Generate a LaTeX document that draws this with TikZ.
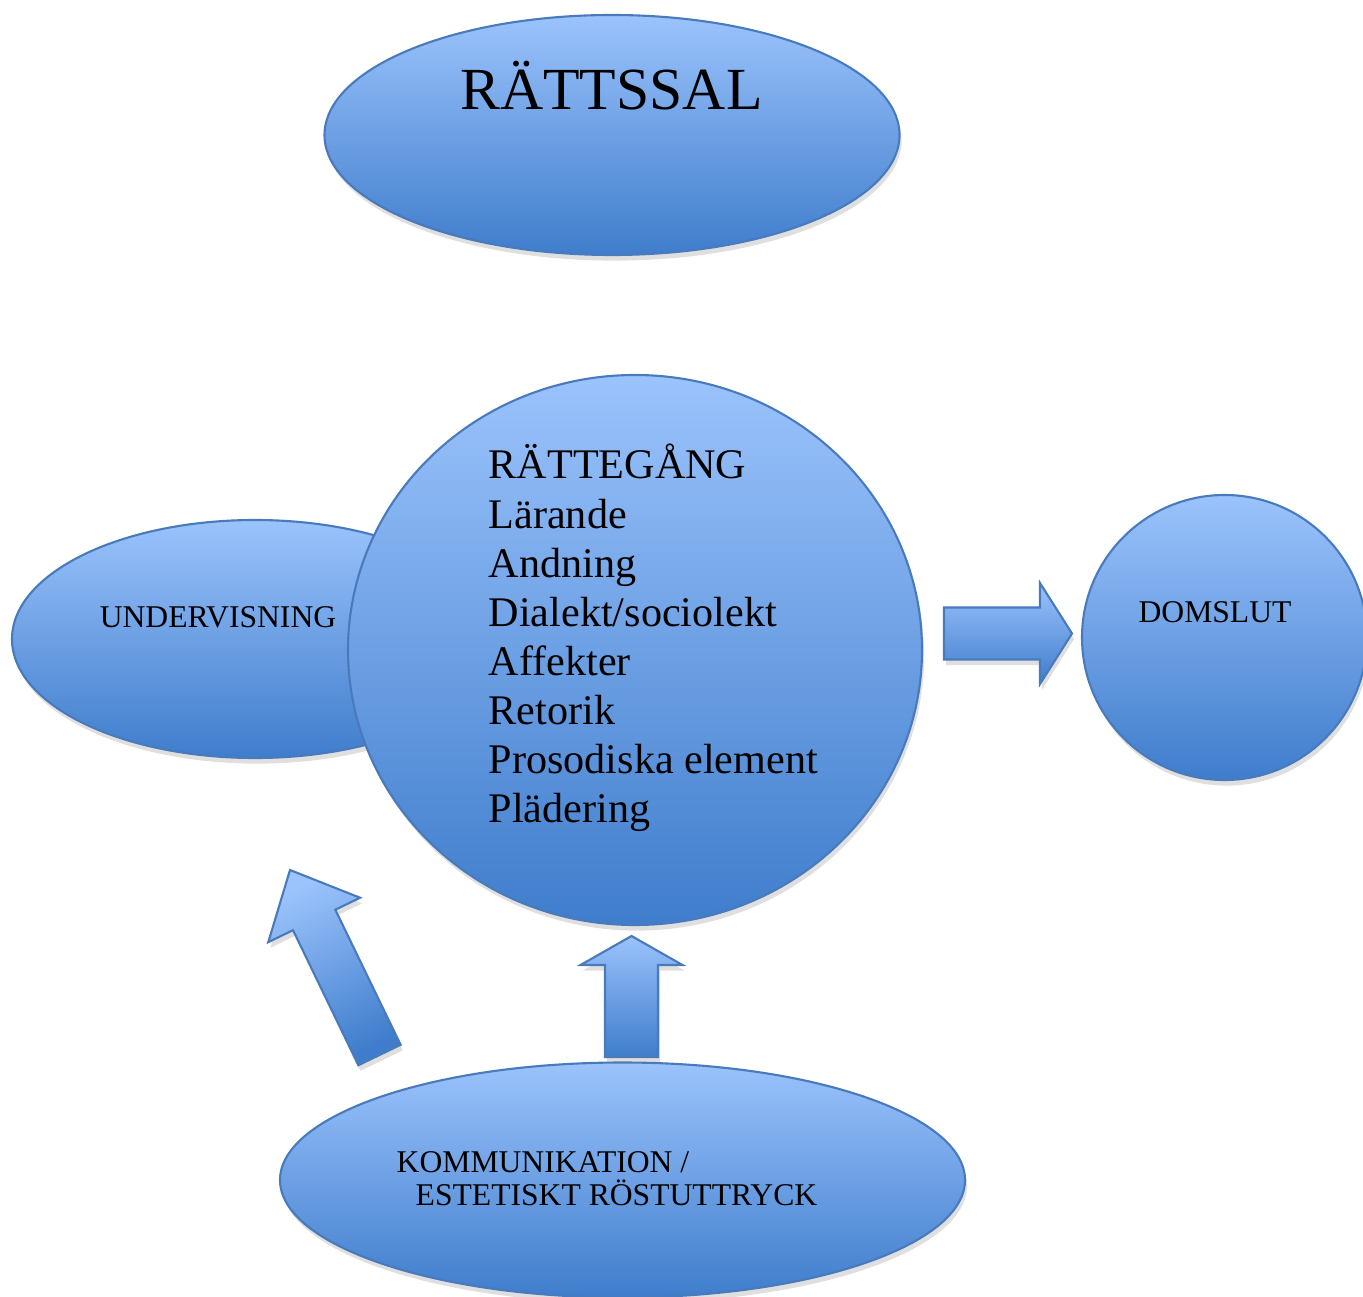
\documentclass[tikz,border=0pt]{standalone}
\usepackage{fontspec}
\setmainfont{Liberation Serif}
\usetikzlibrary{shapes.geometric,shadows,calc}
\definecolor{ljusbla}{RGB}{155,195,252}
\definecolor{morkbla}{RGB}{63,125,204}
\definecolor{kantbla}{RGB}{72,122,188}
\tikzset{
  skugga/.style={drop shadow={opacity=0.25, shadow xshift=0.6pt, shadow yshift=-1.6pt}},
  bubbla/.style={ellipse, draw=kantbla, line width=0.6pt, top color=ljusbla, bottom color=morkbla, inner sep=0pt, skugga},
  pilstil/.style={draw=kantbla, line width=0.6pt, top color=ljusbla, bottom color=morkbla, skugga},
  etikett/.style={inner sep=0pt, font=\fontsize{9}{10}\selectfont}
}
% block arrow: tail, tip, half body width, half head width, head length, shading angle
\newcommand{\blockpil}[6]{%
  \coordinate (pilbas) at ($(#2)!#5!(#1)$);
  \path[pilstil, shading angle=#6]
    ($(#1)!#3!90:(#2)$) -- ($(pilbas)!#3!90:(#2)$) -- ($(pilbas)!#4!90:(#2)$)
    -- (#2) -- ($(pilbas)!#4!-90:(#2)$) -- ($(pilbas)!#3!-90:(#2)$)
    -- ($(#1)!#3!-90:(#2)$) -- cycle;}
\begin{document}
\begin{tikzpicture}
\clip (0,0) rectangle (13.63,-12.97);
%\draw[help lines] (0,0) grid (14,-13);
\node[bubbla, minimum width=5.75cm, minimum height=2.40cm] (rattssal) at (6.12,-1.35) {};
\node[etikett, anchor=base, font=\fontsize{17}{20}\selectfont] (rattssaltxt) at (6.115,-1.10) {RÄTTSSAL};
\node[bubbla, minimum width=4.86cm, minimum height=2.38cm] (undervisning) at (2.55,-6.39) {};
\node[etikett, anchor=base] (undervisningtxt) at (2.18,-6.27) {UNDERVISNING};
\node[bubbla, minimum width=5.74cm, minimum height=5.50cm] (rattegang) at (6.35,-6.50) {};
\foreach \txt [count=\i] in {RÄTTEGÅNG, Lärande, Andning, Dialekt/sociolekt, Affekter, Retorik, Prosodiska element, Plädering}
  \node[inner sep=0pt, anchor=base west, font=\fontsize{12}{14}\selectfont] (punkt\i) at (4.88,{-4.79-0.491*(\i-1)}) {\txt};
\node[bubbla, minimum width=2.85cm, minimum height=2.85cm] (domslut) at (12.245,-6.375) {};
\node[etikett, anchor=base] (domsluttxt) at (12.15,-6.22) {DOMSLUT};
\node[bubbla, minimum width=6.85cm, minimum height=2.35cm] (kommunikation) at (6.225,-11.80) {};
\node[etikett, anchor=base west] (komm1) at (3.96,-11.72) {KOMMUNIKATION /};
\node[etikett, anchor=base west] (komm2) at (4.15,-12.05) {ESTETISKT RÖSTUTTRYCK};
% pilar
\coordinate (pil1a) at (9.44,-6.335);
\coordinate (pil1b) at (10.72,-6.335);
\blockpil{pil1a}{pil1b}{0.26cm}{0.505cm}{0.32cm}{0}
\coordinate (pil2a) at (6.315,-10.57);
\coordinate (pil2b) at (6.315,-9.36);
\blockpil{pil2a}{pil2b}{0.265cm}{0.51cm}{0.29cm}{0}
\coordinate (pil3a) at (3.795,-10.55);
\coordinate (pil3b) at (2.90,-8.70);
\blockpil{pil3a}{pil3b}{0.235cm}{0.51cm}{0.555cm}{26}
\end{tikzpicture}
\end{document}
